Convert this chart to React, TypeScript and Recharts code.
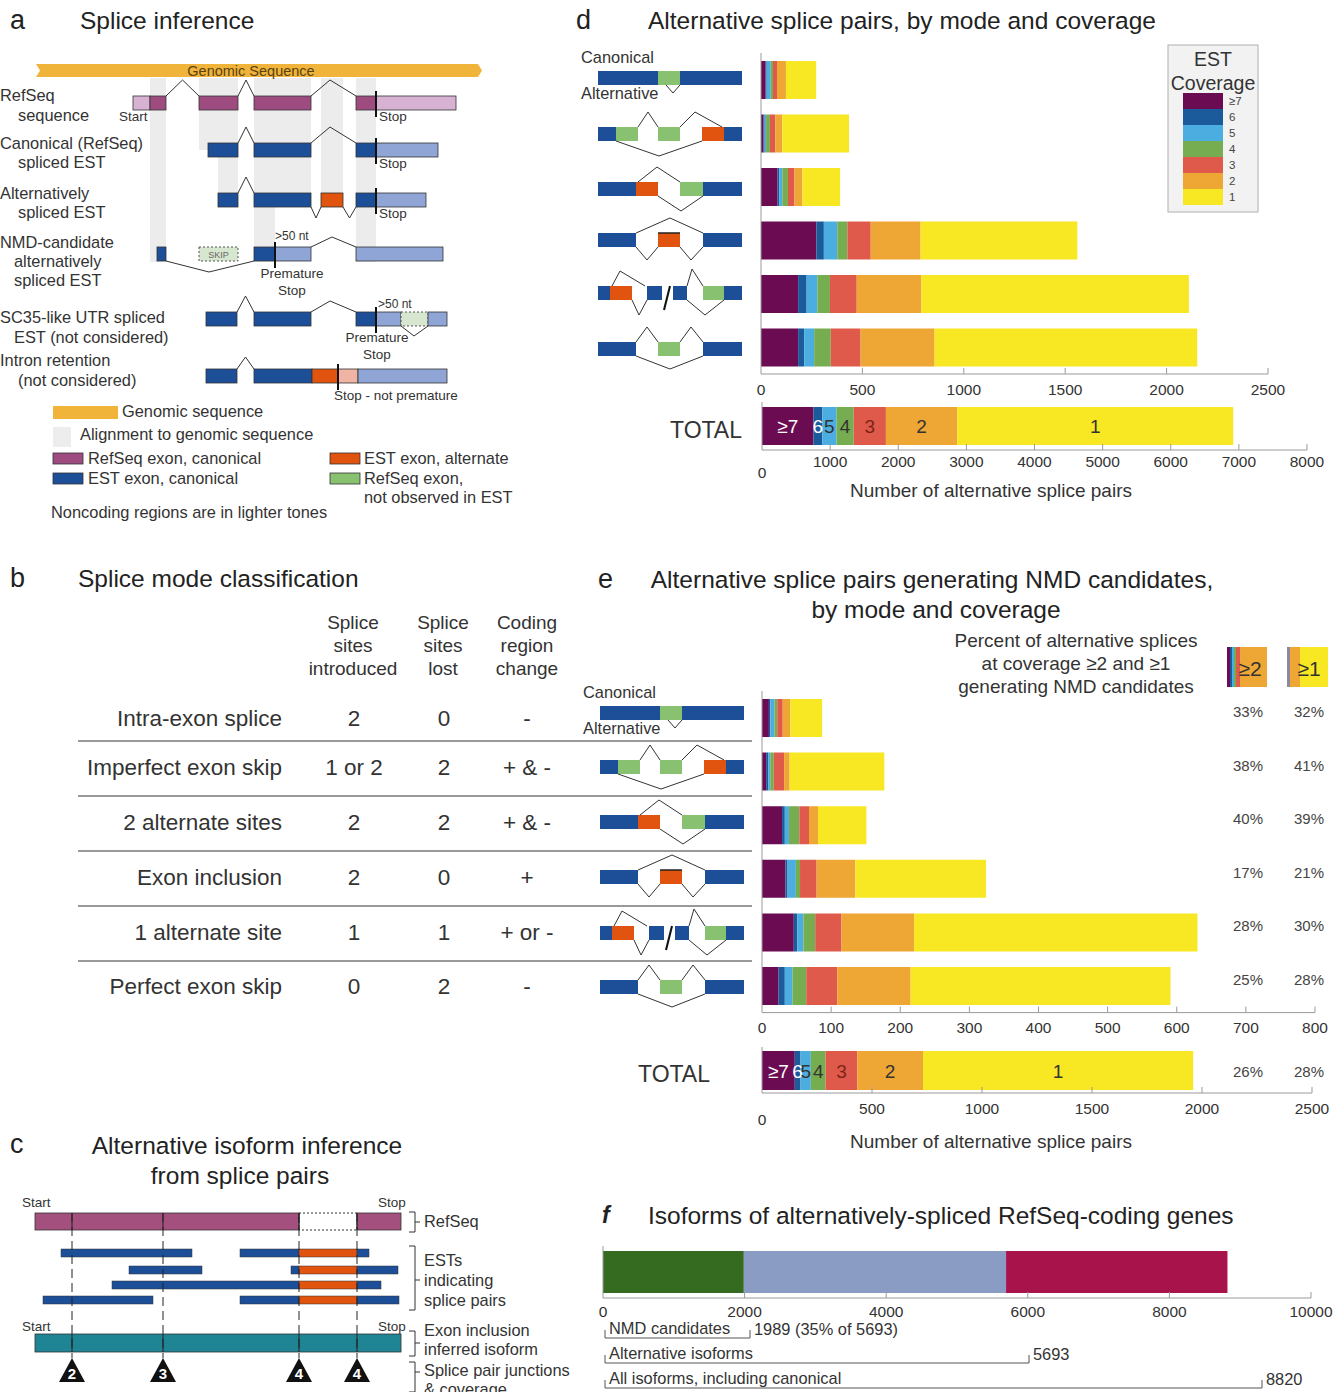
import React from "react";
import { BarChart, Bar, XAxis, YAxis, ReferenceLine, LabelList } from "recharts";

const FONT = '"Liberation Sans", Arial, Helvetica, sans-serif';

// EST coverage classes, highest first (stack order left to right)
const coverageNames = ["≥7", "6", "5", "4", "3", "2", "1"];
const coverageKeys = ["c7", "c6", "c5", "c4", "c3", "c2", "c1"];
const coverageColors = ["#6b0c53", "#1b5a9b", "#4caee0", "#76ad50", "#e05a4b", "#eea634", "#f8e823"];
const coverageTextColors = ["#ffffff", "#ffffff", "#333333", "#333333", "#7a2418", "#333333", "#333333"];

const spliceModes = [
  "Intra-exon splice",
  "Imperfect exon skip",
  "2 alternate sites",
  "Exon inclusion",
  "1 alternate site",
  "Perfect exon skip",
];

// panel d: all alternative splice pairs, by coverage
const dCov7 = [23, 12, 82, 273, 183, 183];
const dCov6 = [5, 6, 8, 37, 42, 30];
const dCov5 = [20, 7, 15, 66, 53, 49];
const dCov4 = [11, 19, 28, 50, 62, 82];
const dCov3 = [20, 27, 32, 115, 132, 147];
const dCov2 = [44, 34, 39, 246, 319, 365];
const dCov1 = [149, 329, 186, 773, 1319, 1295];

// panel e: splice pairs generating NMD candidates
const eCov7 = [10, 6, 29, 34, 46, 24];
const eCov6 = [2, 3, 4, 3, 5, 9];
const eCov5 = [6, 3, 6, 12, 9, 11];
const eCov4 = [4, 5, 15, 6, 17, 20];
const eCov3 = [8, 15, 14, 24, 38, 45];
const eCov2 = [11, 8, 13, 56, 105, 106];
const eCov1 = [46, 137, 70, 189, 410, 376];

const ePctCov2 = ["33%", "38%", "40%", "17%", "28%", "25%"];
const ePctCov1 = ["32%", "41%", "39%", "21%", "30%", "28%"];
const eTotalPct = ["26%", "28%"];

// panel f
const isoformLabels = ["NMD candidates", "Alternative isoforms", "All isoforms, including canonical"];
const isoformCounts = [1989, 5693, 8820];
const isoformColors = ["#356b21", "#8a9cc4", "#a8134b"];

// panel b table
const sitesIntroduced = ["2", "1 or 2", "2", "2", "1", "0"];
const sitesLost = ["0", "2", "2", "0", "1", "2"];
const codingChange = ["-", "+ & -", "+ & -", "+", "+ or -", "-"];

const dTicks = [0, 500, 1000, 1500, 2000, 2500];
const dTotalTicks = [0, 1000, 2000, 3000, 4000, 5000, 6000, 7000, 8000];
const eTicks = [0, 100, 200, 300, 400, 500, 600, 700, 800];
const eTotalTicks = [0, 500, 1000, 1500, 2000, 2500];
const fTicks = [0, 2000, 4000, 6000, 8000, 10000];

const sum = (a: number[]) => a.reduce((s, v) => s + v, 0);

function modeRows(cols: number[][]) {
  return spliceModes.map((mode, i) => {
    const r: any = { mode };
    coverageKeys.forEach((k, j) => (r[k] = cols[j][i]));
    return r;
  });
}
function totalRow(cols: number[][]) {
  const r: any = { mode: "TOTAL" };
  coverageKeys.forEach((k, j) => (r[k] = sum(cols[j])));
  return [r];
}

const dCols = [dCov7, dCov6, dCov5, dCov4, dCov3, dCov2, dCov1];
const eCols = [eCov7, eCov6, eCov5, eCov4, eCov3, eCov2, eCov1];
const dData = modeRows(dCols);
const dTotal = totalRow(dCols);
const eData = modeRows(eCols);
const eTotal = totalRow(eCols);

const isoKeys = ["nmd", "alt", "canon"];
const fData = [
  {
    mode: "isoforms",
    nmd: isoformCounts[0],
    alt: isoformCounts[1] - isoformCounts[0],
    canon: isoformCounts[2] - isoformCounts[1],
  },
];

type AxisSpec = { max: number; ticks: number[]; labelDy: number; zeroDy?: number };

function renderTick(props: any, axis: AxisSpec) {
  const { x, y, payload } = props;
  const v = payload.value as number;
  const dy = v === 0 && axis.zeroDy ? axis.zeroDy : axis.labelDy;
  return (
    <g>
      {v !== 0 && <line x1={x} x2={x} y1={y} y2={y - 6} stroke="#9a9a9a" />}
      <text x={x} y={y + dy} textAnchor="middle" fontSize={15.5} fill="#333" fontFamily={FONT}>
        {v}
      </text>
    </g>
  );
}

interface HBarProps {
  data: any[];
  keys: string[];
  colors: string[];
  x0: number;
  top: number;
  plotW: number;
  bandH: number;
  barH: number;
  axis: AxisSpec;
  labels?: string[];
  labelColors?: string[];
}

function HBar(props: HBarProps) {
  const ml = 20, mr = 40, axisH = 40;
  const height = props.data.length * props.bandH + axisH;
  return (
    <div style={{ position: "absolute", left: props.x0 - ml, top: props.top }}>
      <BarChart
        width={ml + props.plotW + mr}
        height={height}
        data={props.data}
        layout="vertical"
        margin={{ top: 0, right: mr, bottom: 0, left: ml }}
        barSize={props.barH}
      >
        <XAxis
          type="number"
          domain={[0, props.axis.max]}
          ticks={props.axis.ticks}
          interval={0}
          height={axisH}
          tickSize={0}
          tickMargin={0}
          tickLine={false}
          axisLine={{ stroke: "#9a9a9a" }}
          tick={(p: any) => renderTick(p, props.axis)}
          allowDataOverflow
        />
        <YAxis type="category" dataKey="mode" hide />
        <ReferenceLine x={0} stroke="#9a9a9a" />
        {props.keys.map((k, i) => (
          <Bar key={k} dataKey={k} stackId="s" fill={props.colors[i]} isAnimationActive={false}>
            {props.labels && (
              <LabelList
                dataKey={k}
                content={(p: any) => (
                  <text
                    x={Number(p.x) + Number(p.width) / 2}
                    y={Number(p.y) + Number(p.height) / 2 + 7}
                    textAnchor="middle"
                    fontSize={19}
                    fill={props.labelColors ? props.labelColors[i] : "#333"}
                    fontFamily={FONT}
                  >
                    {props.labels![i]}
                  </text>
                )}
              />
            )}
          </Bar>
        ))}
      </BarChart>
    </div>
  );
}

// ---------- diagram helpers ----------
const PURPLE = "#9e4b80";
const PINK = "#d8b2d2";
const BLUE = "#1d4f99";
const LBLUE = "#8ea5d6";
const ORANGE = "#e0540f";
const GREEN = "#88c270";
const PALEGREEN = "#d7e6cf";
const TITLE = 24.5;
const LBL = 16.4;
const SMALL = 13.5;

const ex = (x1: number, x2: number, yc: number, fill: string, key: string, h = 7) => (
  <rect key={key} x={x1} y={yc - h} width={x2 - x1} height={2 * h} fill={fill} stroke="#333" strokeWidth={0.8} />
);
const up = (x1: number, x2: number, yc: number, key: string, d = 16, px?: number) => (
  <polyline key={key} points={`${x1},${yc - 7} ${px ?? (x1 + x2) / 2},${yc - 7 - d} ${x2},${yc - 7}`} fill="none" stroke="#333" strokeWidth={1} />
);
const down = (x1: number, x2: number, yc: number, key: string, d = 11, px?: number) => (
  <polyline key={key} points={`${x1},${yc + 7} ${px ?? (x1 + x2) / 2},${yc + 7 + d} ${x2},${yc + 7}`} fill="none" stroke="#333" strokeWidth={1} />
);
const stop = (x: number, yc: number, key: string) => (
  <line key={key} x1={x} x2={x} y1={yc - 12} y2={yc + 14} stroke="#111" strokeWidth={2} />
);
const T = (x: number, y: number, s: string, size = LBL, anchor: any = "start", fill = "#333", extra: any = {}) => (
  <text key={`${s}-${x}-${y}`} x={x} y={y} fontSize={size} textAnchor={anchor} fill={fill} fontFamily={FONT} {...extra}>
    {s}
  </text>
);

function PanelA() {
  const stripes = [
    [150, 166, 78, 262],
    [199, 238, 78, 150],
    [218, 238, 150, 205],
    [254, 311, 78, 205],
    [254, 275, 205, 262],
    [321, 343, 78, 207],
    [356, 376, 78, 262],
  ];
  const r1 = 103, r2 = 150, r3 = 200, r4 = 254, r5 = 319, r6 = 376;
  return (
    <g>
      {T(10, 29, "a", 27, "start", "#222")}
      {T(80, 29, "Splice inference", TITLE, "start", "#222")}
      {stripes.map((s, i) => (
        <rect key={"st" + i} x={s[0]} y={s[2]} width={s[1] - s[0]} height={s[3] - s[2]} fill="#ececec" />
      ))}
      <polygon points="36,64 478,64 482,70.5 478,77 36,77 40,70.5" fill="#f0b43b" />
      {T(251, 75.5, "Genomic Sequence", 14.5, "middle", "#5a4210")}

      {/* RefSeq */}
      {ex(133, 150, r1, PINK, "a1")}
      {ex(150, 166, r1, PURPLE, "a2")}
      {ex(199, 238, r1, PURPLE, "a3")}
      {ex(254, 311, r1, PURPLE, "a4")}
      {ex(356, 376, r1, PURPLE, "a5")}
      {ex(376, 456, r1, PINK, "a6")}
      {up(166, 199, r1, "ai1")}
      {up(238, 254, r1, "ai2")}
      {up(311, 356, r1, "ai3", 16, 330)}
      {stop(376, r1, "as")}
      {T(119, 121, "Start", SMALL)}
      {T(379, 121, "Stop", SMALL)}

      {/* canonical EST */}
      {ex(208, 238, r2, BLUE, "b1")}
      {ex(254, 311, r2, BLUE, "b2")}
      {ex(356, 376, r2, BLUE, "b3")}
      {ex(376, 438, r2, LBLUE, "b4")}
      {up(238, 254, r2, "bi1")}
      {up(311, 356, r2, "bi2", 16, 330)}
      {stop(376, r2, "bs")}
      {T(379, 168, "Stop", SMALL)}

      {/* alternatively spliced */}
      {ex(218, 238, r3, BLUE, "c1")}
      {ex(254, 311, r3, BLUE, "c2")}
      {ex(321, 343, r3, ORANGE, "c3")}
      {ex(356, 376, r3, BLUE, "c4")}
      {ex(376, 426, r3, LBLUE, "c5")}
      {up(238, 254, r3, "ci1")}
      {down(311, 321, r3, "ci2")}
      {down(343, 356, r3, "ci3")}
      {stop(376, r3, "cs")}
      {T(379, 218, "Stop", SMALL)}

      {/* NMD candidate */}
      {ex(157, 166, r4, BLUE, "d1")}
      <rect x={199} y={r4 - 7} width={39} height={14} fill={PALEGREEN} stroke="#555" strokeDasharray="2,2" />
      {T(218.5, r4 + 4, "SKIP", 9, "middle", "#666")}
      {ex(254, 275, r4, BLUE, "d2")}
      {ex(275, 311, r4, LBLUE, "d3")}
      {ex(356, 443, r4, LBLUE, "d4")}
      {down(166, 254, r4, "di1", 11, 209)}
      {up(311, 356, r4, "di2", 10, 332)}
      {stop(275, r4, "ds")}
      {T(275, 240, ">50 nt", 12)}
      {T(292, 278, "Premature", SMALL, "middle")}
      {T(292, 295, "Stop", SMALL, "middle")}

      {/* SC35-like */}
      {ex(206, 237, r5, BLUE, "e1")}
      {ex(254, 311, r5, BLUE, "e2")}
      {ex(356, 376, r5, BLUE, "e3")}
      {ex(376, 401, r5, LBLUE, "e4")}
      <rect x={401} y={r5 - 7} width={27} height={14} fill={PALEGREEN} stroke="#555" strokeDasharray="2,2" />
      {ex(428, 447, r5, LBLUE, "e5")}
      {up(237, 254, r5, "ei1")}
      {up(311, 356, r5, "ei2", 11, 330)}
      {down(401, 428, r5, "ei3", 10, 414)}
      {stop(376, r5, "es")}
      {T(378, 308, ">50 nt", 12)}
      {T(377, 342, "Premature", SMALL, "middle")}
      {T(377, 359, "Stop", SMALL, "middle")}

      {/* intron retention */}
      {ex(206, 237, r6, BLUE, "f1")}
      {ex(254, 312, r6, BLUE, "f2")}
      {ex(312, 338, r6, ORANGE, "f3")}
      {ex(338, 358, r6, "#f1b3a3", "f4")}
      {ex(358, 447, r6, LBLUE, "f5")}
      {up(237, 254, r6, "fi1", 12)}
      {stop(338, r6, "fs")}
      {T(334, 400, "Stop - not premature", SMALL)}

      {T(0, 101, "RefSeq")}
      {T(18, 121, "sequence")}
      {T(0, 149, "Canonical (RefSeq)")}
      {T(18, 168, "spliced EST")}
      {T(0, 199, "Alternatively")}
      {T(18, 218, "spliced EST")}
      {T(0, 248, "NMD-candidate")}
      {T(14, 267, "alternatively")}
      {T(14, 286, "spliced EST")}
      {T(0, 323, "SC35-like UTR spliced")}
      {T(14, 343, "EST (not considered)")}
      {T(0, 366, "Intron retention")}
      {T(18, 386, "(not considered)")}

      {/* legend */}
      <rect x={53} y={406} width={65} height={13} fill="#f0b43b" />
      {T(122, 417, "Genomic sequence")}
      <rect x={53} y={427} width={18} height={20} fill="#ededed" />
      {T(80, 440, "Alignment to genomic sequence")}
      <rect x={53} y={453} width={30} height={11} fill={PURPLE} stroke="#333" strokeWidth={0.8} />
      {T(88, 464, "RefSeq exon, canonical")}
      <rect x={53} y={473} width={30} height={11} fill={BLUE} stroke="#333" strokeWidth={0.8} />
      {T(88, 484, "EST exon, canonical")}
      <rect x={330} y={453} width={30} height={11} fill={ORANGE} stroke="#333" strokeWidth={0.8} />
      {T(364, 464, "EST exon, alternate")}
      <rect x={330} y={473} width={30} height={11} fill={GREEN} stroke="#333" strokeWidth={0.8} />
      {T(364, 484, "RefSeq exon,")}
      {T(364, 503, "not observed in EST")}
      {T(51, 518, "Noncoding regions are in lighter tones")}
    </g>
  );
}

// splice-mode glyph; x0 = left edge, yc = centre of exon line
function ModeIcon({ mode, x0, yc }: { mode: number; x0: number; yc: number }) {
  const X = (v: number) => x0 + v;
  const box = (a: number, b: number, fill: string, k: string) => (
    <rect key={k} x={X(a)} y={yc - 7} width={b - a} height={14} fill={fill} />
  );
  const line = (pts: number[][], k: string) => (
    <polyline key={k} points={pts.map((p) => `${X(p[0])},${yc + p[1]}`).join(" ")} fill="none" stroke="#333" strokeWidth={1} />
  );
  const parts: any[] = [];
  if (mode === 0) {
    parts.push(box(0, 144, BLUE, "b"), box(60, 82, GREEN, "g"));
    parts.push(line([[68, 7], [75, 15], [82, 7]], "v"));
  } else if (mode === 1) {
    parts.push(box(0, 18, BLUE, "b1"), box(18, 40, GREEN, "g1"), box(60, 82, GREEN, "g2"), box(104, 126, ORANGE, "o"), box(126, 144, BLUE, "b2"));
    parts.push(line([[40, -7], [50, -22], [60, -7]], "t1"), line([[82, -7], [97, -22], [124, -7]], "t2"), line([[18, 7], [61, 22], [104, 7]], "d"));
  } else if (mode === 2) {
    parts.push(box(0, 38, BLUE, "b1"), box(38, 60, ORANGE, "o"), box(82, 105, GREEN, "g"), box(105, 144, BLUE, "b2"));
    parts.push(line([[40, -7], [59, -22], [82, -7]], "t"), line([[60, 7], [83, 22], [105, 7]], "d"));
  } else if (mode === 3) {
    parts.push(box(0, 38, BLUE, "b1"), box(60, 82, ORANGE, "o"), box(105, 144, BLUE, "b2"));
    parts.push(line([[38, -7], [72, -22], [105, -7]], "t"), line([[38, 7], [49, 20], [60, 7]], "d1"), line([[82, 7], [93, 20], [105, 7]], "d2"));
    parts.push(<line key="ot" x1={X(60)} x2={X(82)} y1={yc - 7} y2={yc - 7} stroke="#222" strokeWidth={1.5} />);
  } else if (mode === 4) {
    parts.push(box(0, 12, BLUE, "b1"), box(12, 34, ORANGE, "o"), box(49, 64, BLUE, "b2"), box(75, 89, BLUE, "b3"), box(105, 126, GREEN, "g"), box(126, 144, BLUE, "b4"));
    parts.push(line([[14, -7], [22, -22], [47, -7]], "t1"), line([[34, 7], [41, 22], [49, 7]], "d1"), line([[89, -7], [94, -24], [105, -7]], "t2"), line([[89, 7], [107, 22], [126, 7]], "d2"));
    parts.push(<line key="sl" x1={X(66)} y1={yc + 17} x2={X(72)} y2={yc - 7} stroke="#111" strokeWidth={2} />);
  } else {
    parts.push(box(0, 38, BLUE, "b1"), box(60, 82, GREEN, "g"), box(105, 144, BLUE, "b2"));
    parts.push(line([[38, -7], [49, -22], [60, -7]], "t1"), line([[82, -7], [93, -22], [105, -7]], "t2"), line([[38, 7], [72, 20], [105, 7]], "d"));
  }
  return <g>{parts}</g>;
}

function PanelB() {
  const rowsY = [718, 767, 822, 877, 932, 986];
  const rules = [741, 796, 851, 906, 961];
  return (
    <g>
      {T(10, 587, "b", 27, "start", "#222")}
      {T(78, 587, "Splice mode classification", TITLE, "start", "#222")}
      {T(353, 629, "Splice", 19, "middle")}
      {T(353, 652, "sites", 19, "middle")}
      {T(353, 675, "introduced", 19, "middle")}
      {T(443, 629, "Splice", 19, "middle")}
      {T(443, 652, "sites", 19, "middle")}
      {T(443, 675, "lost", 19, "middle")}
      {T(527, 629, "Coding", 19, "middle")}
      {T(527, 652, "region", 19, "middle")}
      {T(527, 675, "change", 19, "middle")}
      {rules.map((y) => (
        <line key={"r" + y} x1={78} x2={752} y1={y} y2={y} stroke="#777" strokeWidth={1.5} />
      ))}
      {spliceModes.map((m, i) => (
        <g key={"row" + i}>
          {T(282, rowsY[i] + 8, m, 22.5, "end")}
          {T(354, rowsY[i] + 8, sitesIntroduced[i], 22.5, "middle")}
          {T(444, rowsY[i] + 8, sitesLost[i], 22.5, "middle")}
          {T(527, rowsY[i] + 8, codingChange[i], 22.5, "middle")}
        </g>
      ))}
    </g>
  );
}

function PanelC() {
  const junctions = [72, 163, 299, 357];
  const junctionCov = ["2", "3", "4", "4"];
  const C_PURPLE = "#a3507f";
  const est = (y: number, segs: number[][], k: string) => (
    <g key={k}>
      {segs.map((s, i) => (
        <rect key={i} x={s[0]} y={y - 4} width={s[1] - s[0]} height={8} fill={s[2] === 1 ? ORANGE : BLUE} stroke="#333" strokeWidth={0.5} />
      ))}
    </g>
  );
  const bracket = (x: number, y1: number, y2: number, mids: number[], k: string) => (
    <g key={k}>
      <polyline points={`${x},${y1} ${x + 6},${y1} ${x + 6},${y2} ${x},${y2}`} fill="none" stroke="#333" />
      {mids.map((m) => (
        <line key={m} x1={x + 6} x2={x + 11} y1={m} y2={m} stroke="#333" />
      ))}
    </g>
  );
  return (
    <g>
      {T(10, 1153, "c", 27, "start", "#222")}
      {T(247, 1154, "Alternative isoform inference", TITLE, "middle", "#222")}
      {T(240, 1184, "from splice pairs", TITLE, "middle", "#222")}
      {T(22, 1207, "Start", SMALL)}
      {T(378, 1207, "Stop", SMALL)}
      <rect x={35} y={1213} width={264} height={17} fill={C_PURPLE} stroke="#333" strokeWidth={0.8} />
      <rect x={299} y={1213} width={58} height={17} fill="none" stroke="#333" strokeDasharray="2,2" />
      <rect x={357} y={1213} width={44} height={17} fill={C_PURPLE} stroke="#333" strokeWidth={0.8} />
      {est(1253, [[61, 192, 0], [240, 299, 0], [299, 357, 1], [357, 369, 0]], "e1")}
      {est(1270, [[129, 202, 0], [291, 299, 0], [299, 357, 1], [357, 398, 0]], "e2")}
      {est(1285, [[112, 299, 0], [299, 357, 1], [357, 381, 0]], "e3")}
      {est(1300, [[43, 153, 0], [240, 299, 0], [299, 357, 1], [357, 399, 0]], "e4")}
      {T(22, 1331, "Start", SMALL)}
      {T(378, 1331, "Stop", SMALL)}
      <rect x={35} y={1334} width={366} height={18} fill="#1f8494" stroke="#333" strokeWidth={0.8} />
      {junctions.map((x, i) => (
        <g key={"j" + i}>
          <line x1={x} x2={x} y1={1213} y2={1358} stroke="#222" strokeDasharray="9,5" />
          <line x1={x} x2={x} y1={1213} y2={1230} stroke="#222" />
          <line x1={x} x2={x} y1={1334} y2={1352} stroke="#222" />
          <polygon points={`${x},${1358} ${x + 13},${1382} ${x - 13},${1382}`} fill="#111" />
          {T(x, 1379, junctionCov[i], 15, "middle", "#fff", { fontWeight: "bold" })}
        </g>
      ))}
      {bracket(409, 1212, 1232, [1222], "br1")}
      {T(424, 1227, "RefSeq")}
      {bracket(409, 1246, 1310, [1280], "br2")}
      {T(424, 1266, "ESTs")}
      {T(424, 1286, "indicating")}
      {T(424, 1306, "splice pairs")}
      {bracket(409, 1331, 1356, [1343], "br3")}
      {T(424, 1336, "Exon inclusion")}
      {T(424, 1355, "inferred isoform")}
      {bracket(409, 1362, 1392, [1372], "br4")}
      {T(424, 1376, "Splice pair junctions")}
      {T(424, 1395, "& coverage")}
    </g>
  );
}

function PanelDEText() {
  const dIconY = [78, 134, 189, 240, 293, 349];
  const eIconY = [713, 767, 822, 877, 933, 987];
  const eRowY = [718, 772, 825, 879, 932, 986];
  const legendTop = 93;
  return (
    <g>
      {/* panel d */}
      {T(576, 29, "d", 27, "start", "#222")}
      {T(648, 29, "Alternative splice pairs, by mode and coverage", TITLE, "start", "#222")}
      {T(581, 63, "Canonical")}
      {T(581, 99, "Alternative")}
      {dIconY.map((y, i) => (
        <ModeIcon key={"di" + i} mode={i} x0={598} yc={y} />
      ))}
      {T(670, 438, "TOTAL", 23)}
      {T(991, 497, "Number of alternative splice pairs", 19, "middle")}
      <rect x={1168} y={45} width={90} height={167} fill="#f2f2f2" stroke="#b0b0b0" />
      {T(1213, 66, "EST", 19.5, "middle")}
      {T(1213, 90, "Coverage", 19.5, "middle")}
      {coverageNames.map((n, i) => (
        <g key={"lg" + i}>
          <rect x={1183} y={legendTop + i * 16} width={40} height={16} fill={coverageColors[i]} />
          {T(1229, legendTop + i * 16 + 12, n, 11.5, "start", "#444")}
        </g>
      ))}

      {/* panel e */}
      {T(598, 588, "e", 27, "start", "#222")}
      {T(932, 588, "Alternative splice pairs generating NMD candidates,", TITLE, "middle", "#222")}
      {T(936, 618, "by mode and coverage", TITLE, "middle", "#222")}
      {T(1076, 647, "Percent of alternative splices", 19, "middle")}
      {T(1076, 670, "at coverage ≥2 and ≥1", 19, "middle")}
      {T(1076, 693, "generating NMD candidates", 19, "middle")}
      <rect x={1227} y={647} width={40} height={40} fill="#eea634" />
      <rect x={1227} y={647} width={3} height={40} fill="#6b0c53" />
      <rect x={1230} y={647} width={2} height={40} fill="#1b5a9b" />
      <rect x={1232} y={647} width={2} height={40} fill="#4caee0" />
      <rect x={1234} y={647} width={2} height={40} fill="#76ad50" />
      <rect x={1236} y={647} width={4} height={40} fill="#e05a4b" />
      {T(1250, 676, "≥2", 21, "middle")}
      <rect x={1287} y={647} width={41} height={40} fill="#f8e823" />
      <rect x={1287} y={647} width={3} height={40} fill="#8a8a9a" />
      <rect x={1290} y={647} width={10} height={40} fill="#eea634" />
      {T(1309, 676, "≥1", 21, "middle")}
      {T(583, 698, "Canonical")}
      {T(583, 734, "Alternative")}
      {eIconY.map((y, i) => (
        <ModeIcon key={"ei" + i} mode={i} x0={600} yc={y} />
      ))}
      {eRowY.map((y, i) => (
        <g key={"ep" + i}>
          {T(1248, y - 1, ePctCov2[i], 15, "middle", "#444")}
          {T(1309, y - 1, ePctCov1[i], 15, "middle", "#444")}
        </g>
      ))}
      {T(638, 1082, "TOTAL", 23)}
      {T(1248, 1077, eTotalPct[0], 15, "middle", "#444")}
      {T(1309, 1077, eTotalPct[1], 15, "middle", "#444")}
      {T(991, 1148, "Number of alternative splice pairs", 19, "middle")}

      {/* panel f */}
      {T(602, 1223, "f", 23, "start", "#222", { fontStyle: "italic", fontWeight: "bold" })}
      {T(648, 1224, "Isoforms of alternatively-spliced RefSeq-coding genes", TITLE, "start", "#222")}
      {isoformLabels.map((lab, i) => {
        const y = [1338, 1363, 1388][i];
        const xEnd = [750, 1029, 1262][i];
        const note = i === 0 ? `${isoformCounts[0]} (${Math.round((isoformCounts[0] / isoformCounts[1]) * 100)}% of ${isoformCounts[1]})` : `${isoformCounts[i]}`;
        return (
          <g key={"fb" + i}>
            <polyline points={`605,${y - 8} 605,${y} ${xEnd},${y} ${xEnd},${y - 8}`} fill="none" stroke="#555" />
            {T(609, y - 4, lab)}
            {T(xEnd + 4, y - 3, note)}
          </g>
        );
      })}
    </g>
  );
}

export default function App() {
  return (
    <div
      style={{
        position: "absolute",
        left: 0,
        top: 0,
        width: 1340,
        height: 1392,
        overflow: "hidden",
        background: "#fff",
        fontFamily: FONT,
      }}
    >
      <svg width={1340} height={1392} style={{ position: "absolute", left: 0, top: 0 }}>
        <PanelA />
        <PanelB />
        <PanelC />
        <PanelDEText />
      </svg>

      <HBar data={dData} keys={coverageKeys} colors={coverageColors} x0={761} top={53} plotW={507} bandH={53.5} barH={38}
        axis={{ max: 2500, ticks: dTicks, labelDy: 21 }} />
      <HBar data={dTotal} keys={coverageKeys} colors={coverageColors} x0={762} top={402} plotW={545} bandH={48} barH={38}
        axis={{ max: 8000, ticks: dTotalTicks, labelDy: 17, zeroDy: 28 }} labels={coverageNames} labelColors={coverageTextColors} />
      <HBar data={eData} keys={coverageKeys} colors={coverageColors} x0={762} top={691} plotW={553} bandH={53.6} barH={38}
        axis={{ max: 800, ticks: eTicks, labelDy: 20 }} />
      <HBar data={eTotal} keys={coverageKeys} colors={coverageColors} x0={762} top={1047} plotW={550} bandH={46} barH={39}
        axis={{ max: 2500, ticks: eTotalTicks, labelDy: 21, zeroDy: 32 }} labels={coverageNames} labelColors={coverageTextColors} />
      <HBar data={fData} keys={isoKeys} colors={isoformColors} x0={603} top={1246} plotW={708} bandH={52} barH={42}
        axis={{ max: 10000, ticks: fTicks, labelDy: 19 }} />
    </div>
  );
}
